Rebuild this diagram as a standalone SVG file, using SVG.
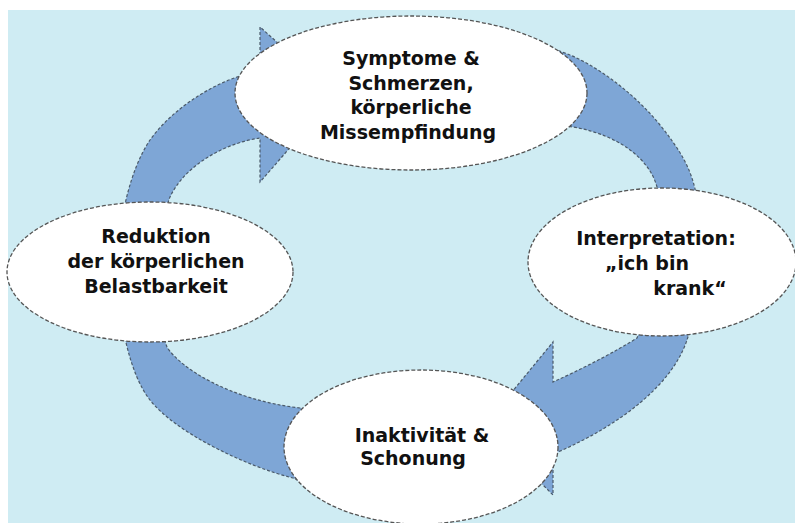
<svg xmlns="http://www.w3.org/2000/svg" width="795" height="523" viewBox="0 0 795 523">
<style>
.bg{fill:#cfecf3}
.arrow{fill:#7ea6d6;stroke:#4a5a6a;stroke-width:1.2;stroke-dasharray:3 2}
.node{fill:#ffffff;stroke:#555555;stroke-width:1.3;stroke-dasharray:4 2}
.lbl{font-family:"DejaVu Sans","Liberation Sans",sans-serif;font-weight:bold;font-size:19px;fill:#111111}
</style>
<rect x="0" y="0" width="795" height="523" fill="#ffffff"/>
<rect class="bg" x="8" y="10" width="787" height="513"/>
<g id="connectors">
<path class="arrow" d="M330,495 L293,478 C245,466 175,432 150,400 C130,375 118,320 118,272 C118,220 130,170 150,140 C170,112 205,88 237,77 L260,70 L260,27 L336,95 L260,182 L260,138 C225,143 185,165 170,197 C158,225 156,320 167,347 C180,368 230,400 300,408 L345,412 Z"/>
<path class="arrow" d="M486,30 C515,38 545,45 570,55 C605,70 640,100 660,125 C680,150 693,170 697,200 C702,240 700,300 687,340 C672,385 620,425 558,452 L553,455 L553,495 L484,426 L553,342 L553,382 C580,370 615,352 637,338 C655,300 665,220 657,187 C650,160 620,135 573,127 L471,110 Z"/>
</g>
<g id="node-symptome">
<ellipse class="node" cx="411" cy="93" rx="176" ry="77"/>
<text class="lbl" text-anchor="middle" x="411" y="65">Symptome &amp;</text>
<text class="lbl" text-anchor="middle" x="411" y="90">Schmerzen,</text>
<text class="lbl" text-anchor="middle" x="411" y="114">körperliche</text>
<text class="lbl" text-anchor="middle" x="408" y="139">Missempfindung</text>
</g>
<g id="node-interpretation">
<ellipse class="node" cx="662" cy="262" rx="134" ry="74"/>
<text class="lbl" text-anchor="middle" x="656" y="245">Interpretation:</text>
<text class="lbl" text-anchor="middle" x="647" y="270">„ich bin</text>
<text class="lbl" text-anchor="middle" x="690" y="295">krank“</text>
</g>
<g id="node-inaktivitaet">
<ellipse class="node" cx="421" cy="447" rx="137" ry="77"/>
<text class="lbl" text-anchor="middle" x="422" y="442">Inaktivität &amp;</text>
<text class="lbl" text-anchor="middle" x="413" y="465">Schonung</text>
</g>
<g id="node-reduktion">
<ellipse class="node" cx="150" cy="272" rx="143" ry="70"/>
<text class="lbl" text-anchor="middle" x="156" y="243">Reduktion</text>
<text class="lbl" text-anchor="middle" x="156" y="268">der körperlichen</text>
<text class="lbl" text-anchor="middle" x="156" y="293">Belastbarkeit</text>
</g>
</svg>
